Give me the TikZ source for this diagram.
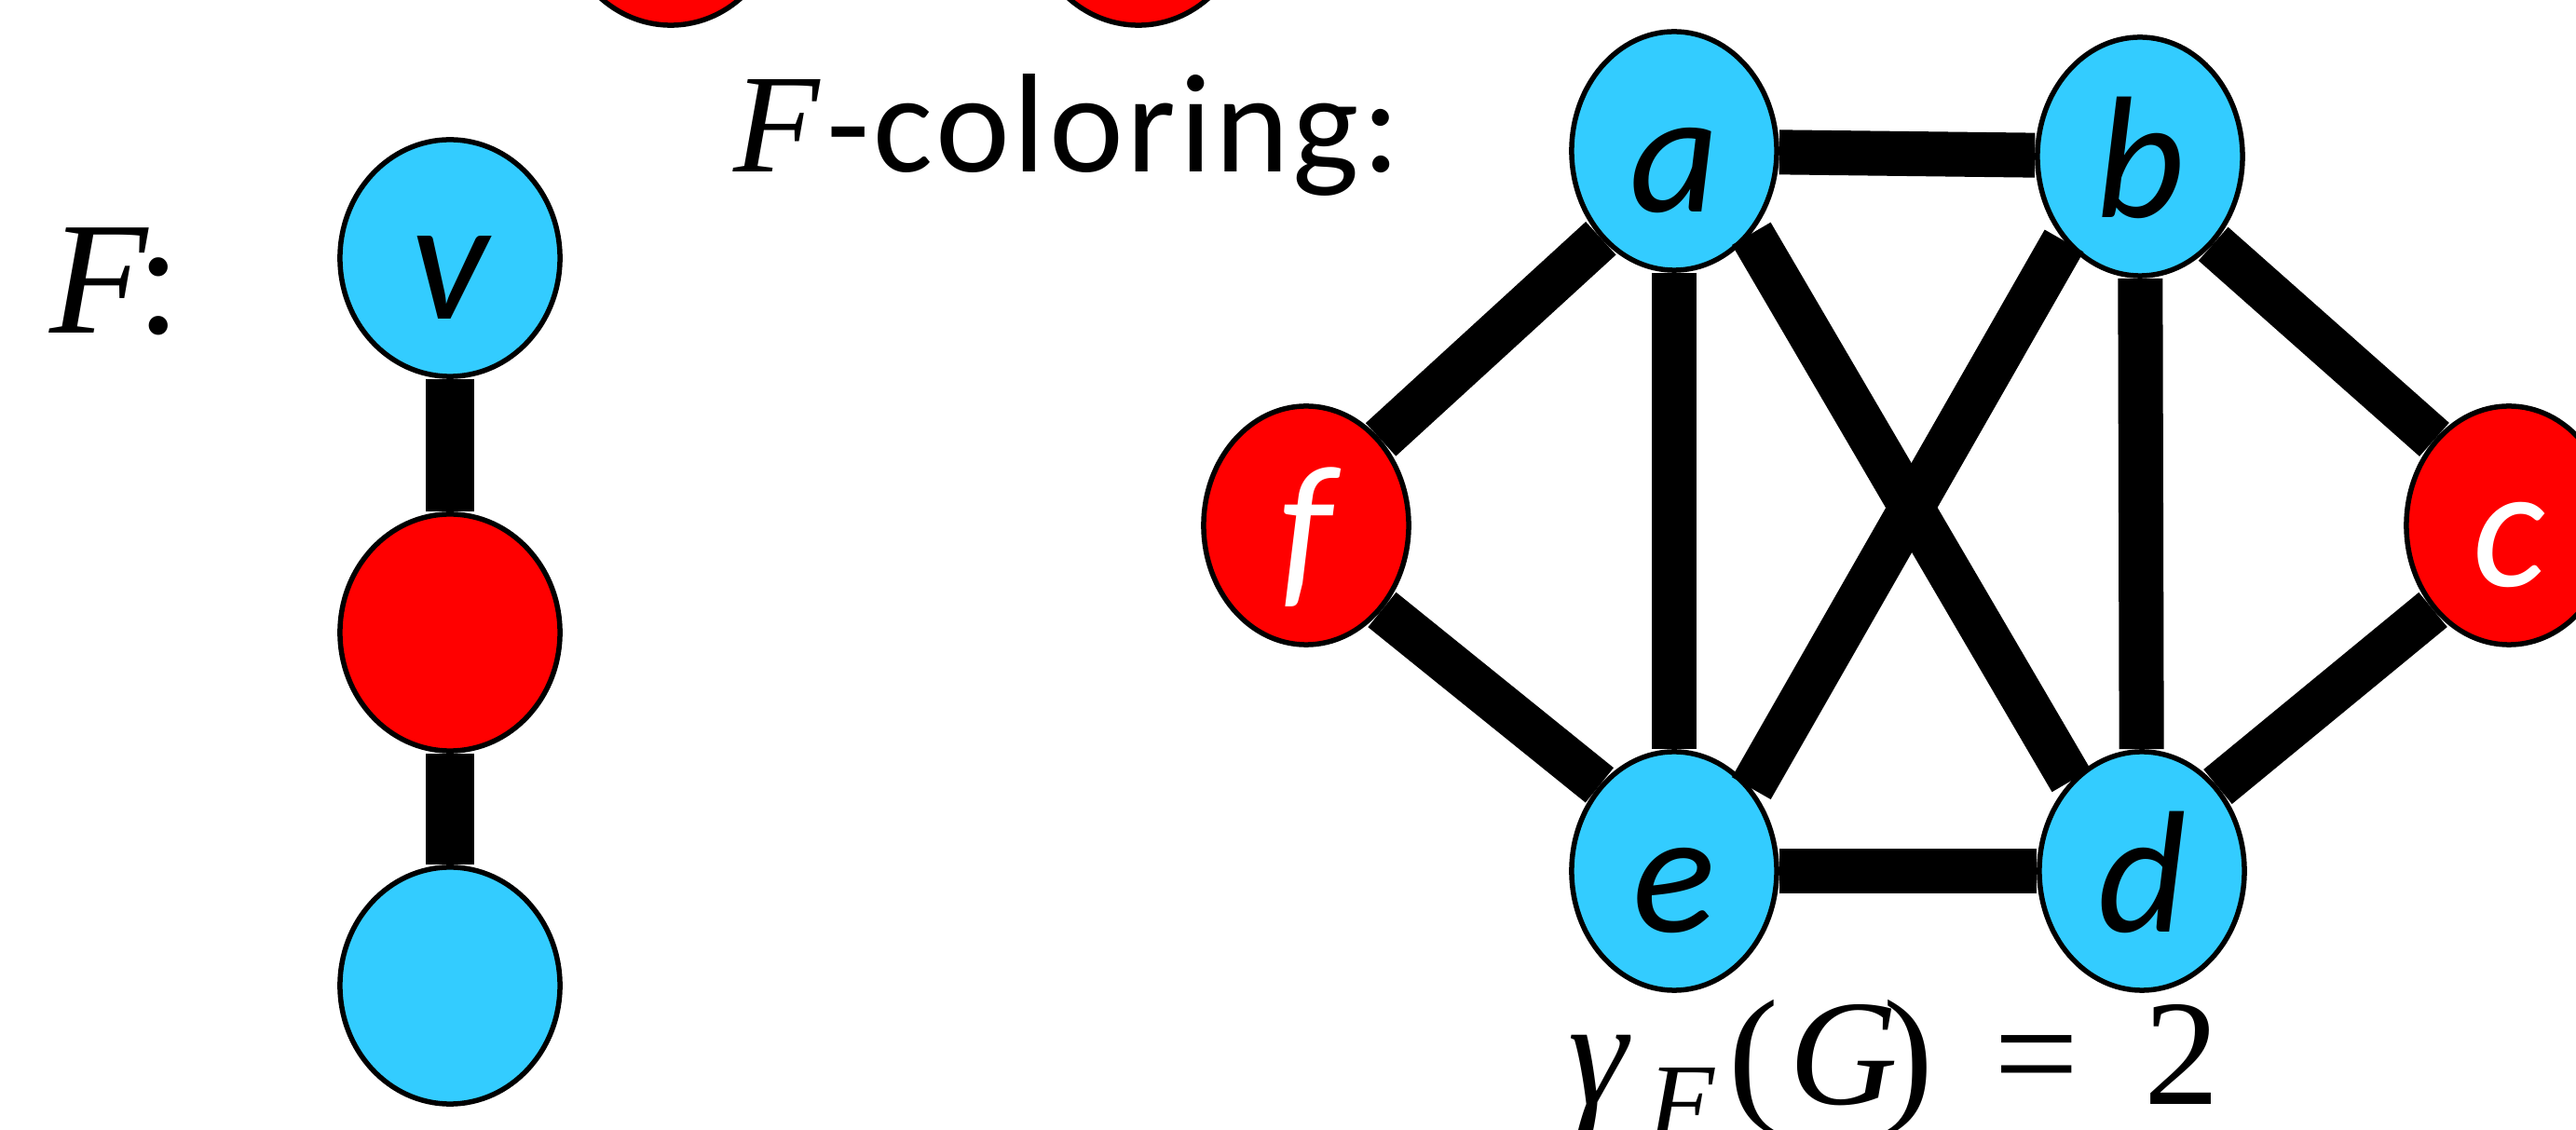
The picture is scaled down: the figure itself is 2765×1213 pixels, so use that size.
\documentclass[tikz,border=0pt]{standalone}
\usepackage{fontspec}
\setmainfont{Carlito}
\newfontfamily\symserif{Liberation Serif}
\usetikzlibrary{shapes.geometric}
\definecolor{nodecyan}{HTML}{33CCFF}
\definecolor{nodered}{HTML}{FF0000}

\begin{document}
\begin{tikzpicture}[x=0.01cm, y=-0.01cm,
  vtx/.style={ellipse, draw=black, line width=0.055cm, inner sep=0pt,
    minimum width=2.2cm, minimum height=2.56cm,
    font=\fontsize{53}{53}\selectfont\itshape,
    text height=1.45cm, text depth=0.15cm},
  bigvtx/.style={vtx, minimum width=2.36cm, minimum height=2.54cm},
  cyanv/.style={fill=nodecyan, text=black},
  redv/.style={fill=nodered, text=white},
  link/.style={line width=0.48cm, line cap=butt},
  biglink/.style={line width=0.51cm, line cap=butt},
  caption/.style={anchor=base west, inner sep=0pt}]

\useasboundingbox (0,0) rectangle (2765,1213);

% pattern graph F: a path on three vertices
\node[bigvtx, cyanv] (v)  at (483,277)  {v};
\node[bigvtx, redv]  (fm) at (483,679)  {};
\node[bigvtx, cyanv] (fb) at (483,1058) {};
\draw[biglink] (v) -- (fm);
\draw[biglink] (fm) -- (fb);

% vertices of a previous row, partly above the page
\node[bigvtx, redv] (t1) at (720,-100)  {};
\node[bigvtx, redv] (t2) at (1222,-100) {};

% labels
\node[caption, font=\fontsize{49}{49}\selectfont\symserif] (flabel) at (53,358)
  {\makebox[0.93cm][l]{\itshape F}:};
\node[caption, font=\fontsize{43}{43}\selectfont] (title) at (787,185)
  {\makebox[1.0cm][l]{\symserif\itshape F}\addfontfeature{LetterSpace=2.5}-coloring:};
\node[caption, font=\fontsize{46}{46}\selectfont\symserif] (gam) at (1683,1186)
  {\makebox[0.86cm][l]{\itshape γ}%
   \makebox[0.86cm][l]{\raisebox{-0.36cm}{\fontsize{33}{33}\selectfont\itshape F}}%
   \makebox[0.65cm][l]{(}%
   \makebox[1.01cm][l]{\itshape G}%
   \makebox[1.19cm][l]{)}%
   \makebox[1.61cm][l]{=}%
   2};

% the graph G with its F-coloring
\node[vtx, cyanv] (a) at (1797,162) {a};
\node[vtx, cyanv] (b) at (2297,168) {b};
\node[vtx, redv]  (c) at (2693,564) {c};
\node[vtx, cyanv] (d) at (2299,935) {d};
\node[vtx, cyanv] (e) at (1797,935) {e};
\node[vtx, redv]  (f) at (1402,564) {f};

\draw[link] (a) -- (b);
\draw[link] (a.-130) -- (f.49);
\draw[link] (a) -- (e);
\draw[link] (a.-47) -- (d.128);
\draw[link] (b.-132) -- (e.47);
\draw[link] (b) -- (d);
\draw[link] (b.-50) -- (c.131);
\draw[link] (c.-132) -- (d.48);
\draw[link] (e) -- (d);
\draw[link] (e.131) -- (f.-48);
\end{tikzpicture}
\end{document}
